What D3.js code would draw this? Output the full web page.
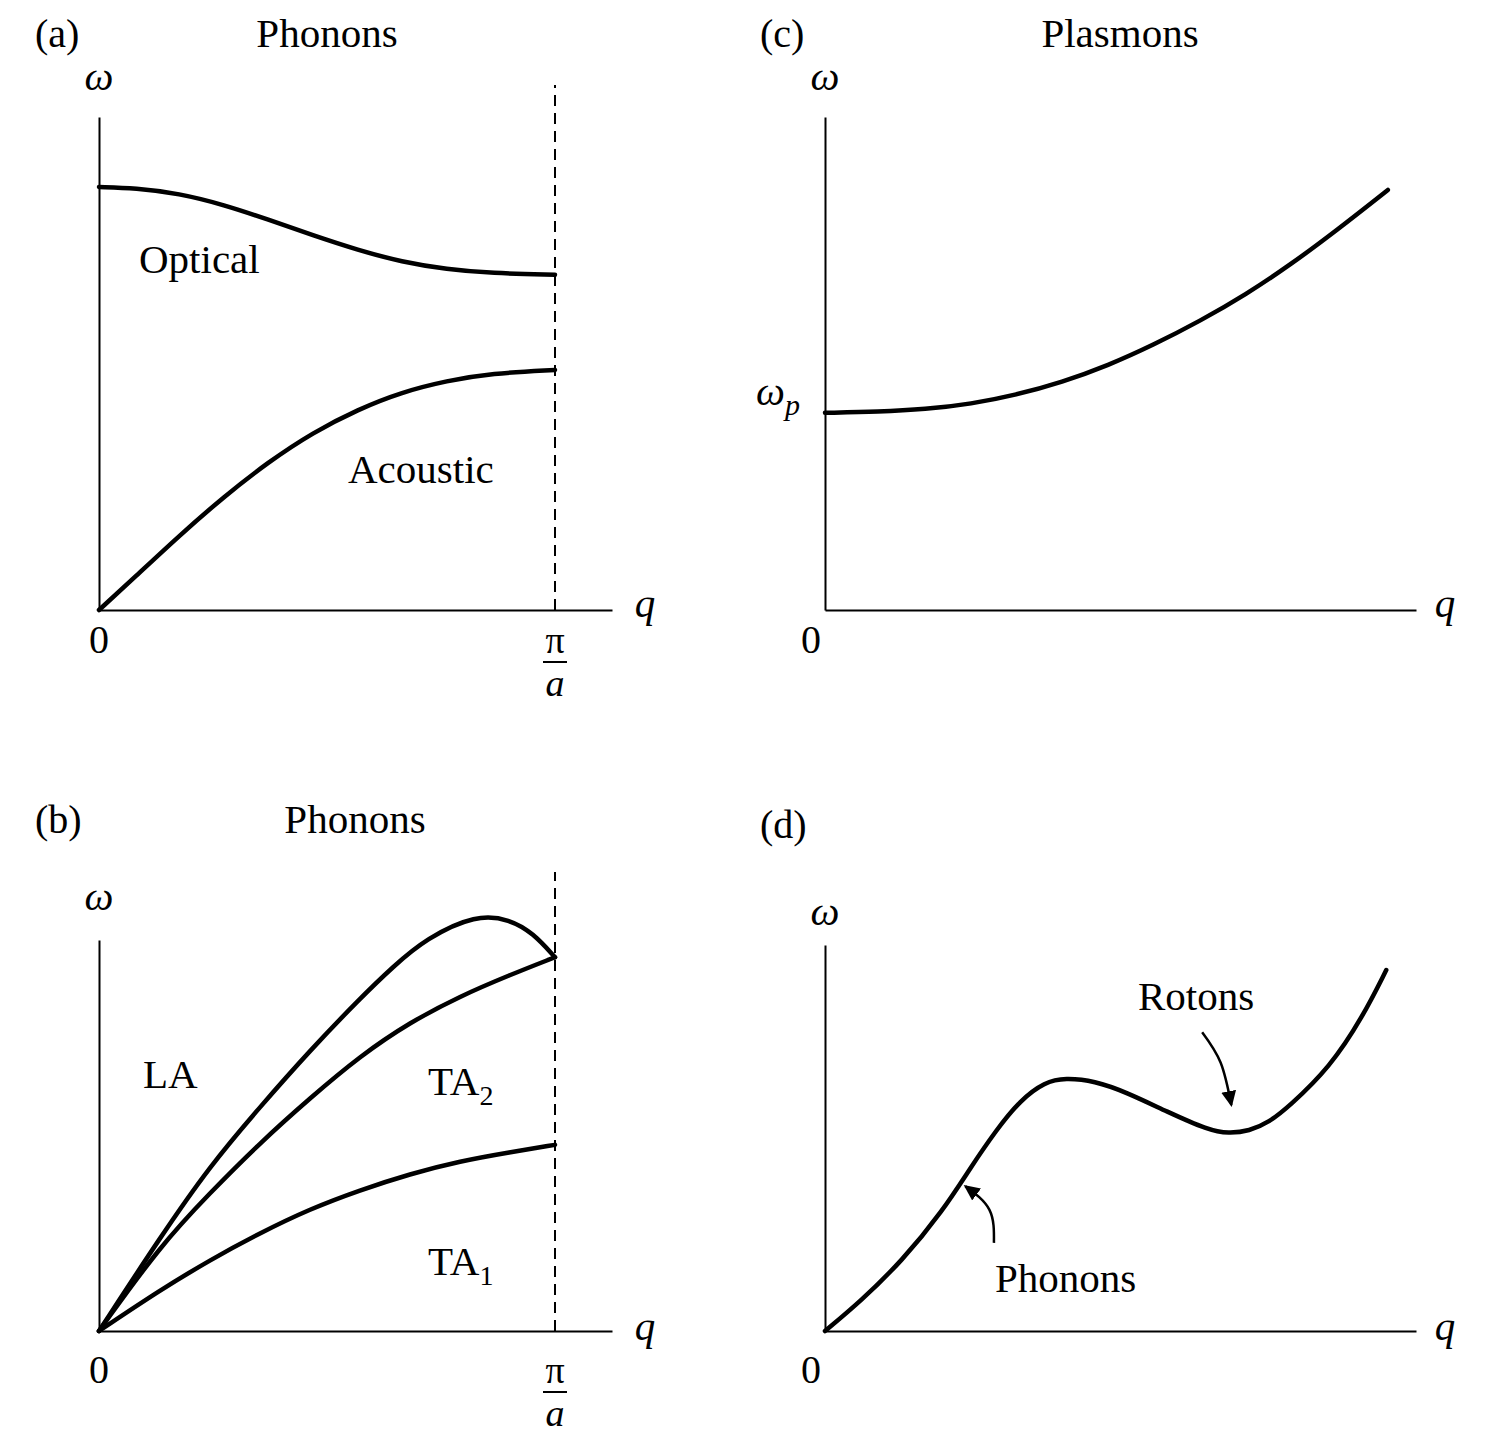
<!DOCTYPE html>
<html>
<head>
<meta charset="utf-8">
<script src="https://cdn.jsdelivr.net/npm/d3@7"></script>
<style>
  body { margin: 0; background: #fff; }
  svg { display: block; }
  text { font-family: "Liberation Serif", "Times New Roman", serif; fill: #000; }
</style>
</head>
<body>
<svg id="chart"></svg>
<script>
// ---- data (q in units of pi/a, omega in arbitrary units) ----
const opticalQ = [0, 0.08, 0.175, 0.274, 0.371, 0.469, 0.568, 0.664, 0.763, 0.860, 1.0];
const opticalW = [8.58, 8.56, 8.45, 8.22, 7.92, 7.60, 7.30, 7.06, 6.91, 6.83, 6.80];
const acousticQ = [0, 0.079, 0.175, 0.274, 0.371, 0.469, 0.568, 0.664, 0.763, 0.860, 1.0];
const acousticW = [0, 0.67, 1.50, 2.30, 3.00, 3.60, 4.07, 4.42, 4.65, 4.80, 4.87];

const laQ = [0, 0.134, 0.243, 0.353, 0.463, 0.572, 0.645, 0.717, 0.827, 0.901, 0.952, 1];
const laW = [0, 1.90, 3.35, 4.55, 5.70, 6.75, 7.40, 7.97, 8.46, 8.36, 8.08, 7.59];
const taQ = [0, 0.134, 0.243, 0.353, 0.463, 0.572, 0.682, 0.792, 0.901, 1];
const ta2W = [0, 1.73, 2.80, 3.82, 4.73, 5.58, 6.27, 6.80, 7.23, 7.59];
const ta1W = [0, 0.83, 1.44, 1.99, 2.48, 2.86, 3.19, 3.45, 3.63, 3.78];

const plasmonQ = [0, 0.096, 0.178, 0.260, 0.339, 0.421, 0.503, 0.584, 0.666, 0.748, 0.829, 0.909, 1];
const plasmonW = [4.0, 4.02, 4.07, 4.18, 4.36, 4.62, 4.96, 5.38, 5.86, 6.40, 7.02, 7.70, 8.52];

const rotonQ = [0, 0.064, 0.137, 0.210, 0.260, 0.305, 0.348, 0.392, 0.428, 0.480, 0.537,
                0.610, 0.683, 0.719, 0.756, 0.791, 0.826, 0.900, 0.958, 1];
const rotonW = [0, 0.61, 1.42, 2.44, 3.33, 4.08, 4.69, 5.06, 5.14, 5.08, 4.85,
                4.45, 4.08, 4.01, 4.06, 4.24, 4.55, 5.36, 6.38, 7.33];

// annotation arrows in panel (d), [q, omega]
const rotonArrow = [[0.672, 6.07], [0.705, 5.45], [0.724, 4.59]];
const phononArrow = [[0.301, 1.79], [0.293, 2.46], [0.250, 2.94]];

const zip = (qs, ws) => qs.map((q, i) => ({q: q, w: ws[i]}));

const svg = d3.select("#chart")
    .attr("width", 1487)
    .attr("height", 1440);

svg.append("defs").append("marker")
    .attr("id", "head")
    .attr("markerUnits", "userSpaceOnUse")
    .attr("viewBox", "0 -8 16 16")
    .attr("refX", 14)
    .attr("refY", 0)
    .attr("markerWidth", 16)
    .attr("markerHeight", 16)
    .attr("orient", "auto")
    .append("path")
    .attr("d", "M0,-7.5L16,0L0,7.5Z")
    .attr("fill", "#000");

function makePanel(cfg) {
    const x = d3.scaleLinear().domain([0, cfg.qMax]).range(cfg.xRange);
    const y = d3.scaleLinear().domain([0, cfg.wMax]).range(cfg.yRange);
    const g = svg.append("g");

    g.append("g")
        .attr("transform", `translate(0,${y(0)})`)
        .call(d3.axisBottom(x).tickValues([]).tickSizeOuter(0))
        .select(".domain").attr("stroke-width", 2);
    g.append("g")
        .attr("transform", `translate(${x(0)},0)`)
        .call(d3.axisLeft(y).tickValues([]).tickSizeOuter(0))
        .select(".domain").attr("stroke-width", 2);

    // read-off points are a little noisy, so smooth with a B-spline
    const line = d3.line()
        .x(d => x(d.q))
        .y(d => y(d.w))
        .curve(d3.curveBasis);

    return {g, x, y, line};
}

function curve(p, data) {
    p.g.append("path")
        .datum(data)
        .attr("d", p.line)
        .attr("fill", "none")
        .attr("stroke", "#000")
        .attr("stroke-width", 4.5)
        .attr("stroke-linecap", "round");
}

function label(p, txt, x, y, opts = {}) {
    const t = p.g.append("text")
        .attr("x", x)
        .attr("y", y)
        .attr("font-size", opts.size || 41)
        .attr("text-anchor", opts.anchor || "start")
        .attr("font-style", opts.italic ? "italic" : "normal")
        .text(txt);
    if (opts.sub) {
        t.append("tspan")
            .attr("font-size", opts.subSize || 28)
            .attr("dy", opts.subDy || 10)
            .attr("font-style", opts.subItalic ? "italic" : "normal")
            .text(opts.sub);
    }
    return t;
}

function piOverA(p, yBase) {
    const cx = p.x(1);
    label(p, "\u03c0", cx, yBase, {anchor: "middle", size: 38});
    p.g.append("line")
        .attr("x1", cx - 12).attr("x2", cx + 12)
        .attr("y1", yBase + 9).attr("y2", yBase + 9)
        .attr("stroke", "#000").attr("stroke-width", 2);
    label(p, "a", cx, yBase + 43, {anchor: "middle", size: 38, italic: true});
}

function zoneEdge(p, top) {
    p.g.append("line")
        .attr("x1", p.x(1)).attr("x2", p.x(1))
        .attr("y1", p.y(0)).attr("y2", p.y(top))
        .attr("stroke", "#000")
        .attr("stroke-width", 2)
        .attr("stroke-dasharray", "11,7");
}

function arrow(p, pts) {
    p.g.append("path")
        .datum(pts)
        .attr("d", d3.line().x(d => p.x(d[0])).y(d => p.y(d[1])).curve(d3.curveNatural))
        .attr("fill", "none")
        .attr("stroke", "#000")
        .attr("stroke-width", 2.5)
        .attr("marker-end", "url(#head)");
}

// ---- (a) Phonons: optical and acoustic ----
const pa = makePanel({xRange: [99, 612], qMax: 1.125, yRange: [610, 117], wMax: 10});
zoneEdge(pa, 10.65);
curve(pa, zip(opticalQ, opticalW));
curve(pa, zip(acousticQ, acousticW));
label(pa, "(a)", 35, 47, {size: 40});
label(pa, "Phonons", 327, 47, {anchor: "middle"});
label(pa, "\u03c9", pa.x(0), 90, {anchor: "middle", italic: true});
label(pa, "q", 645, 617, {anchor: "middle", italic: true});
label(pa, "0", pa.x(0), 653, {anchor: "middle", size: 40});
piOverA(pa, 653);
label(pa, "Optical", 139, 273);
label(pa, "Acoustic", 348, 483);

// ---- (b) Phonons: LA, TA2, TA1 ----
const pb = makePanel({xRange: [99, 612], qMax: 1.125, yRange: [1331, 940], wMax: 7.94});
zoneEdge(pb, 9.32);
curve(pb, zip(laQ, laW));
curve(pb, zip(taQ, ta2W));
curve(pb, zip(taQ, ta1W));
label(pb, "(b)", 35, 833, {size: 40});
label(pb, "Phonons", 355, 833, {anchor: "middle"});
label(pb, "\u03c9", pb.x(0), 910, {anchor: "middle", italic: true});
label(pb, "q", 645, 1340, {anchor: "middle", italic: true});
label(pb, "0", pb.x(0), 1383, {anchor: "middle", size: 40});
piOverA(pb, 1383);
label(pb, "LA", 143, 1088);
label(pb, "TA", 428, 1095, {sub: "2"});
label(pb, "TA", 428, 1275, {sub: "1"});

// ---- (c) Plasmons ----
const pc = makePanel({xRange: [825, 1416], qMax: 1.05, yRange: [610, 117], wMax: 10});
curve(pc, zip(plasmonQ, plasmonW));
label(pc, "(c)", 760, 47, {size: 40});
label(pc, "Plasmons", 1120, 47, {anchor: "middle"});
label(pc, "\u03c9", pc.x(0), 90, {anchor: "middle", italic: true});
label(pc, "q", 1445, 617, {anchor: "middle", italic: true});
label(pc, "0", 811, 653, {anchor: "middle", size: 40});
label(pc, "\u03c9", 756, 405, {italic: true, sub: "p", subItalic: true, subSize: 30, subDy: 10});

// ---- (d) Rotons ----
const pd = makePanel({xRange: [825, 1416], qMax: 1.053, yRange: [1331, 945], wMax: 7.84});
curve(pd, zip(rotonQ, rotonW));
arrow(pd, rotonArrow);
arrow(pd, phononArrow);
label(pd, "(d)", 760, 838, {size: 40});
label(pd, "\u03c9", pd.x(0), 925, {anchor: "middle", italic: true});
label(pd, "q", 1445, 1340, {anchor: "middle", italic: true});
label(pd, "0", 811, 1383, {anchor: "middle", size: 40});
label(pd, "Rotons", 1138, 1010);
label(pd, "Phonons", 995, 1292);
</script>
</body>
</html>
